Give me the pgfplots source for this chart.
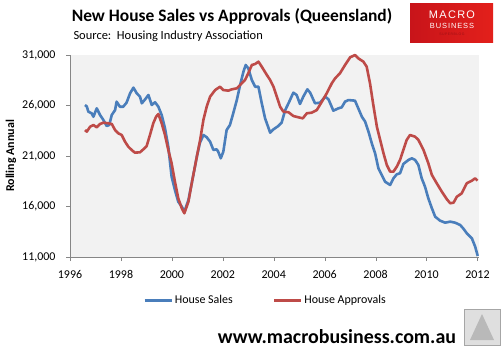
\documentclass[border=0pt]{standalone}
\usepackage{pgfplots}
\pgfplotsset{compat=1.18}
\usepackage{fontspec}
\setmainfont{Carlito}
\newfontfamily\logofont[LetterSpace=12]{Liberation Sans}
\definecolor{salesblue}{HTML}{4A7EBB}
\definecolor{apprred}{HTML}{BE4B48}
\definecolor{plotbg}{HTML}{F2F2F2}
\definecolor{axgray}{HTML}{868686}
\definecolor{logored}{HTML}{E3201B}
\definecolor{logodark}{HTML}{C8141A}
\begin{document}
\begin{tikzpicture}[x=1bp,y=1bp]
\useasboundingbox (0,0) rectangle (504,354);
\begin{axis}[
  at={(70bp,97bp)}, anchor=south west,
  scale only axis, width=409bp, height=202bp,
  xmin=1996, xmax=2012.06, ymin=11000, ymax=31000,
  axis lines*=left, axis line style={axgray,-},
  axis background/.style={fill=plotbg},
  xtick={1996,1998,...,2012}, ytick={11000,16000,...,31000},
  tick align=outside, major tick length=4bp, tick style={axgray},
  scaled ticks=false,
  xticklabel style={/pgf/number format/1000 sep={}, yshift=-6bp},
  yticklabel style={/pgf/number format/1000 sep={,}, xshift=-7bp},
  /pgf/number format/assume math mode=true,
  tick label style={font=\fontsize{12}{14}\selectfont},
  legend style={at={(0.478,-0.215)}, anchor=center, draw=none, fill=none,
    legend columns=2, font=\fontsize{12}{14}\selectfont,
    /tikz/every even column/.append style={column sep=38bp}},
  legend image code/.code={\draw[#1] (0bp,0bp) -- (27bp,0bp);},
  clip=false,
]
\addplot[salesblue, line width=2.6bp, line join=round] coordinates {
(1996.59,26050) (1996.66,25900) (1996.72,25390) (1996.85,25230) (1996.92,24890)
(1997.05,25720) (1997.18,25060) (1997.31,24570) (1997.44,23970) (1997.54,24070)
(1997.64,25060) (1997.77,25550) (1997.83,26380) (1997.96,25880) (1998.09,25880)
(1998.22,26280) (1998.36,27210) (1998.49,27770) (1998.62,27210) (1998.75,26870)
(1998.82,26220) (1998.95,26610) (1999.08,27040) (1999.21,26050) (1999.34,26320)
(1999.47,25880) (1999.60,25060) (1999.73,23740) (1999.86,21920) (1999.99,18950)
(2000.12,17630) (2000.25,16480) (2000.39,15980) (2000.49,15490) (2000.65,16640)
(2000.78,18300) (2000.98,20930) (2001.10,22300) (2001.24,23080) (2001.37,22850)
(2001.50,22420) (2001.63,21600) (2001.76,21660) (2001.82,21430) (2001.92,20770)
(2002.02,21430) (2002.15,23570) (2002.28,24070) (2002.41,25230) (2002.55,26540)
(2002.68,28030) (2002.81,29350) (2002.90,30010) (2003.00,29680) (2003.14,28520)
(2003.27,27860) (2003.40,27860) (2003.53,26220) (2003.66,24730) (2003.86,23310)
(2003.99,23640) (2004.18,23970) (2004.31,24300) (2004.45,25550) (2004.58,26220)
(2004.77,27270) (2004.90,27040) (2005.03,26150) (2005.16,26870) (2005.32,27600)
(2005.43,27270) (2005.62,26220) (2005.82,26280) (2006.02,26870) (2006.15,26610)
(2006.34,25490) (2006.54,25720) (2006.67,25820) (2006.80,26380) (2006.93,26540)
(2007.19,26480) (2007.32,25720) (2007.46,24890) (2007.59,24400) (2007.72,23410)
(2007.85,22260) (2007.98,21270) (2008.11,19780) (2008.24,19120) (2008.37,18460)
(2008.57,18130) (2008.70,18790) (2008.83,19190) (2008.96,19290) (2009.09,20210)
(2009.29,20610) (2009.42,20770) (2009.55,20610) (2009.68,20110) (2009.81,18790)
(2009.94,17960) (2010.07,16810) (2010.21,15820) (2010.34,14990) (2010.53,14600)
(2010.73,14400) (2010.93,14500) (2011.12,14400) (2011.32,14170) (2011.45,13800)
(2011.58,13350) (2011.78,12850) (2011.91,12020) (2012.01,11100)
};
\addlegendentry{House Sales}
\addplot[apprred, line width=2.6bp, line join=round] coordinates {
(1996.59,23570) (1996.66,23410) (1996.79,23900) (1996.92,24070) (1997.05,23840)
(1997.18,24170) (1997.31,24300) (1997.50,24240) (1997.64,24170) (1997.77,23570)
(1997.90,23240) (1998.03,23080) (1998.16,22420) (1998.29,21920) (1998.42,21600)
(1998.55,21330) (1998.75,21370) (1998.88,21660) (1999.01,21990) (1999.14,23080)
(1999.27,24240) (1999.38,24890) (1999.47,25160) (1999.60,24240) (1999.73,23080)
(1999.86,21600) (1999.99,20280) (2000.12,18460) (2000.25,16810) (2000.39,15820)
(2000.49,15330) (2000.65,16480) (2000.78,18300) (2000.98,20930) (2001.11,22590)
(2001.24,24600) (2001.37,25900) (2001.50,26870) (2001.70,27530) (2001.89,27860)
(2002.02,27530) (2002.22,27470) (2002.35,27600) (2002.55,27700) (2002.68,28030)
(2002.87,28520) (2003.00,29190) (2003.14,30010) (2003.27,30110) (2003.40,30340)
(2003.53,29840) (2003.73,29020) (2003.86,28520) (2003.99,27860) (2004.12,26870)
(2004.25,25880) (2004.38,25390) (2004.58,25330) (2004.77,24960) (2004.97,24830)
(2005.14,24730) (2005.30,25230) (2005.49,25290) (2005.69,25550) (2005.89,26380)
(2006.08,27210) (2006.28,28200) (2006.41,28690) (2006.60,29190) (2006.80,30010)
(2007.00,30770) (2007.19,31000) (2007.32,30670) (2007.52,30340) (2007.65,29840)
(2007.78,28200) (2007.91,26050) (2008.05,23900) (2008.18,22590) (2008.31,21270)
(2008.44,20110) (2008.57,19450) (2008.70,19450) (2008.83,19940) (2008.96,20610)
(2009.09,21600) (2009.22,22590) (2009.35,23080) (2009.55,22910) (2009.68,22590)
(2009.88,21600) (2010.07,20280) (2010.21,19120) (2010.40,18300) (2010.60,17470)
(2010.80,16710) (2010.93,16320) (2011.06,16380) (2011.19,16970) (2011.38,17300)
(2011.58,18300) (2011.78,18560) (2011.91,18790) (2012.00,18560)
};
\addlegendentry{House Approvals}
\end{axis}
% y label
\node[rotate=90, font=\bfseries\fontsize{12}{14}\selectfont] at (11,198) {Rolling Annual};
% title
\node[font=\bfseries\fontsize{17.5}{20}\selectfont, anchor=center] at (232,338) {New House Sales vs Approvals (Queensland)};
\node[font=\fontsize{12.5}{15}\selectfont, anchor=west] at (70,318) {Source:\ \ Housing Industry Association};
% logo
\shade[left color=logodark, right color=logored] (410,312) rectangle (493,350);
\node[text=white, font=\logofont\fontsize{11}{12}\selectfont] at (452,339) {MACRO};
\node[text=white, font=\logofont\fontsize{7.5}{9}\selectfont] at (452,328) {BUSINESS};
\node[text=logodark!80!black, font=\logofont\fontsize{3.5}{4}\selectfont] at (452,319.5) {SUPERBLOG};
% website
\node[font=\bfseries\fontsize{20}{24}\selectfont] at (337,17) {www.macrobusiness.com.au};
% fox badge
\draw[gray!70, line width=1bp, fill=gray!25] (464,9) rectangle (500,45);
\fill[gray!55] (470,14) -- (482,40) -- (494,14) -- cycle;
\end{tikzpicture}
\end{document}
